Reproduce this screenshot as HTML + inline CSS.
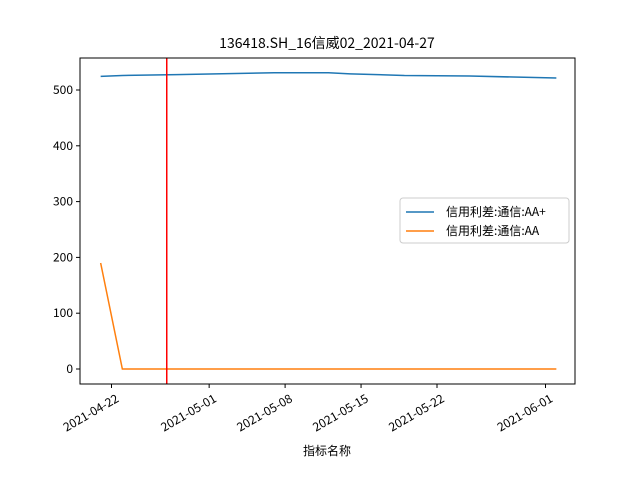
<!DOCTYPE html>
<html><head><meta charset="utf-8"><style>body{margin:0;background:#fff}svg{display:block}text{font-family:"WenQuanYi Zen Hei","Noto Sans CJK SC",sans-serif;}</style></head>
<body>
<svg id="c" width="640" height="480"></svg>
<script>
const blueDates=["2021-04-21","2021-04-23","2021-04-28","2021-05-07","2021-05-12","2021-05-14","2021-05-19","2021-05-25","2021-06-02"];
const blueVals=[524.5,526,527.5,531,531,529,526,525,521.5];
const orangeDates=["2021-04-21","2021-04-23","2021-06-02"];
const orangeVals=[190,0,0];
const yTicks=[0,100,200,300,400,500];
const xTicks=["2021-04-22","2021-05-01","2021-05-08","2021-05-15","2021-05-22","2021-06-01"];
const vDate="2021-04-27";
const NS="http://www.w3.org/2000/svg";
const svg=document.getElementById('c');
const L=80,R=575,T=58,B=384;
const d0=Date.parse("2021-04-22");
const xs=d=>111.5+(Date.parse(d)-d0)/864e5*10.85;
const ys=v=>369-v*0.558;
function el(t,a,p){const e=document.createElementNS(NS,t);for(const k in a)e.setAttribute(k,a[k]);(p||svg).appendChild(e);return e;}
const title=el('text',{x:327,y:48,'text-anchor':'middle','font-size':14});title.textContent="136418.SH_16信威02_2021-04-27";


yTicks.forEach(v=>{const y=ys(v);
 el('line',{x1:L-4,x2:L,y1:y,y2:y,stroke:'#000'});
 const t=el('text',{x:L-7,y:y+4,'text-anchor':'end','font-size':12});t.textContent=v;
 
 });
xTicks.forEach(d=>{const x=xs(d);
 el('line',{x1:x,x2:x,y1:B,y2:B+4,stroke:'#000'});
 const t=el('text',{x:x+3,y:B+8,'text-anchor':'end','font-size':12,transform:`rotate(-30 ${x+3} ${B+8})`,'dominant-baseline':'hanging'});t.textContent=d;
 
 });
const xl=el('text',{x:327,y:455,'text-anchor':'middle','font-size':12});xl.textContent="指标名称";


function line(ds,vs,c,name){const p=el('polyline',{points:ds.map((d,i)=>xs(d)+','+ys(vs[i])).join(' '),fill:'none',stroke:c,'stroke-width':1.5});
 
 }
line(blueDates,blueVals,'#1f77b4','series-aa-plus');
line(orangeDates,orangeVals,'#ff7f0e','series-aa');
const vl=el('line',{x1:xs(vDate)+1,x2:xs(vDate)+1,y1:T,y2:B,stroke:'red','stroke-width':1.5});


const fr=el('rect',{x:L,y:T,width:R-L,height:B-T,fill:'none',stroke:'#000','stroke-width':1});


const lg=el('g',{});


el('rect',{x:400,y:198,width:169,height:45,rx:3,fill:'#fff',stroke:'#ccc'},lg);
[['#1f77b4','信用利差:通信:AA+',212],['#ff7f0e','信用利差:通信:AA',231]].forEach(([c,s,y])=>{
 el('line',{x1:406,x2:434,y1:y,y2:y,stroke:c,'stroke-width':1.5},lg);
 const t=el('text',{x:446,y:y+4,'font-size':12},lg);t.textContent=s;
 
 });
</script>
</body></html>
